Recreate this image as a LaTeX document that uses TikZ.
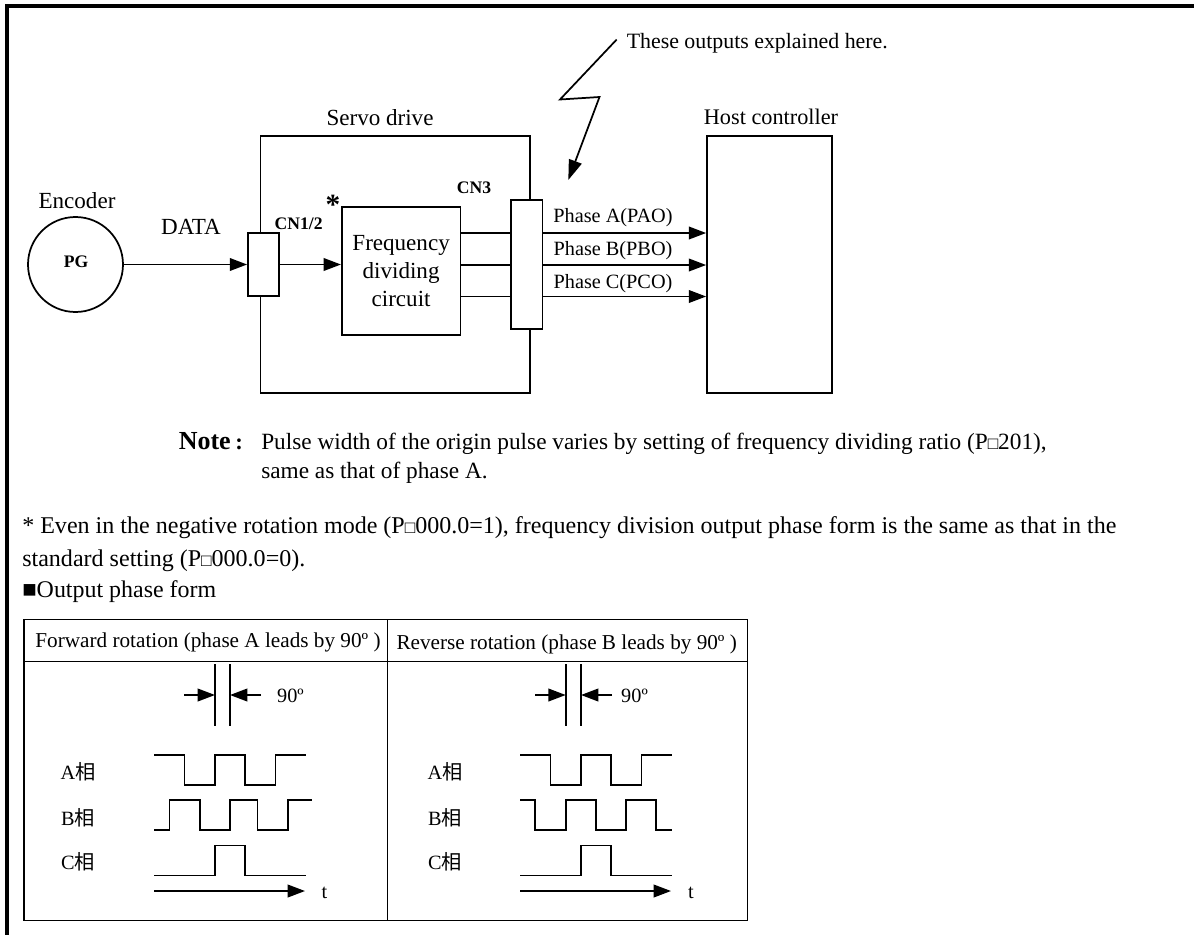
\documentclass[tikz,border=0pt]{standalone}
\usepackage{fontspec}
\setmainfont{Liberation Serif}
\newfontfamily\cjk{Noto Sans CJK SC}
\usetikzlibrary{arrows.meta,shapes.geometric}
\def\px{*0.75pt}
\newcommand{\sqbox}{{\fontsize{13}{13}\selectfont □}}
\tikzset{
  x=0.75pt,y=-0.75pt,
  ln/.style={line width=1.3pt,line join=miter},
  arr/.style={ln,-{Triangle[length=13pt,width=9.5pt]}},
  boxn/.style={draw,ln,fill=white,inner sep=0pt},
  lbl/.style={inner sep=0pt,font=\fontsize{17.3}{20}\selectfont},
  lblb/.style={inner sep=0pt,font=\fontsize{13.2}{15}\selectfont\bfseries},
  note/.style={inner sep=0pt,anchor=base west,font=\fontsize{17.47}{20}\selectfont},
  body/.style={inner sep=0pt,anchor=base west,font=\fontsize{18.03}{20}\selectfont},
  cell/.style={inner sep=0pt,font=\fontsize{15.9}{18}\selectfont},
  phase/.style={inner sep=0pt,font=\fontsize{15.2}{18}\selectfont},
  sig/.style={inner sep=0pt,font=\fontsize{15.2}{18}\selectfont},
}
\begin{document}
\begin{tikzpicture}
\useasboundingbox (0,0) rectangle (1194,935);
\fill[white] (0,0) rectangle (1194,935);
% outer frame
\draw[line width=3pt] (1194,6) -- (7,6) -- (7,935);

% boxes
\node[boxn,minimum width=269.6\px,minimum height=257\px] (servo) at (395.2,264.5) {};
\node[boxn,minimum width=125\px,minimum height=257\px] (host) at (769.5,264.5) {};
\node[boxn,minimum width=118.6\px,minimum height=128\px,align=center,font=\fontsize{17.3}{21}\selectfont] (freq) at (401.1,271) {Frequency\\dividing\\circuit};
\node[boxn,minimum width=31.3\px,minimum height=63\px] (cnl) at (263.6,264.5) {};
\node[boxn,minimum width=31.5\px,minimum height=128.5\px] (cnr) at (526.8,264.5) {};
\node[boxn,circle,minimum size=95\px] (enc) at (75.5,264.5) {};
\node[lblb] (pg) at (76,262) {PG};

% labels
\node[lbl] (encl) at (77,201) {Encoder};
\node[lbl] (datal) at (191,227) {DATA};
\node[lbl] (servol) at (380,118) {Servo drive};
\node[lbl,font=\fontsize{16.7}{20}\selectfont] (hostl) at (771,117) {Host controller};
\node[lblb] (cn12) at (298.7,223.5) {CN1/2};
\node[lblb] (cn3) at (474,188) {CN3};
\node[inner sep=0pt,font=\fontsize{22}{22}\selectfont\bfseries] (star) at (333,205) {*};
\node[inner sep=0pt,anchor=base west,font=\fontsize{16.4}{20}\selectfont] (expl) at (626.5,48) {These outputs explained here.};

% connectors
\coordinate (oa) at (511,233);
\coordinate (ob) at (511,265);
\coordinate (oc) at (511,296.5);
\draw[arr] (enc.east) -- (cnl.west);
\draw[arr] (cnl.east) -- (cnl.east -| freq.west);
\foreach \o in {oa,ob,oc}{
  \draw[ln] (\o -| freq.east) -- (\o -| cnr.west);
  \draw[arr] (\o -| cnr.east) -- (\o -| host.west);
}
\node[phase] (pa) at (613,217.5) {Phase A(PAO)};
\node[phase] (pb) at (613,251) {Phase B(PBO)};
\node[phase] (pc) at (613,284) {Phase C(PCO)};

% lightning pointer
\coordinate (z0) at (616.7,39.5);
\coordinate (z1) at (560,99.5);
\coordinate (z2) at (599.5,97);
\coordinate (z3) at (568.3,180);
\draw[ln,-{Triangle[length=15pt,width=10pt]}] (z0) -- (z1) -- (z2) -- (z3);

% text
\node[inner sep=0pt,anchor=base west,font=\fontsize{19.5}{22}\selectfont\bfseries] (notel) at (178.5,449.5) {Note};
\node[inner sep=0pt,anchor=base west,font=\fontsize{17}{20}\selectfont\bfseries] (notec) at (235,449) {:};
\node[note] (t2) at (261,449) {Pulse width of the origin pulse varies by setting of frequency dividing ratio (P\sqbox 201),};
\node[note] (t3) at (261,478.5) {same as that of phase A.};
\node[body] (t4) at (22,533) {* Even in the negative rotation mode (P\sqbox 000.0=1), frequency division output phase form is the same as that in the};
\node[body] (t5) at (22,566) {standard setting (P\sqbox 000.0=0).};
\node[body,font=\fontsize{17.95}{20}\selectfont] (t6) at (22,597) {■Output phase form};

% table
\coordinate (tl) at (24,619.5);
\coordinate (tm) at (387.5,661.5);
\coordinate (br) at (747.5,920.5);
\draw[line width=1.1pt] (tl) rectangle (br);
\draw[line width=1.1pt] (tl |- tm) -- (br |- tm);
\draw[line width=1.1pt] (tl -| tm) -- (br -| tm);
\node[cell] (h1) at (208,642) {Forward rotation (phase A leads by 90º )};
\node[cell] (h2) at (566.7,644.5) {Reverse rotation (phase B leads by 90º )};

% left waveforms
\draw[ln] (215,664) -- (215,725.5);
\draw[ln] (230,664) -- (230,725.5);
\draw[arr] (184,695) -- (215,695);
\draw[arr] (261,695) -- (230,695);
\node[sig] (d1) at (290.4,696) {90º};
\node[sig] (a1) at (78,771.5) {A\cjk 相};
\node[sig] (b1) at (78,817.5) {B\cjk 相};
\node[sig] (c1) at (78,862) {C\cjk 相};
\draw[ln] (154,755) -- (184.5,755) -- (184.5,785) -- (215,785) -- (215,755) -- (245,755) -- (245,785) -- (275.5,785) -- (275.5,755) -- (306,755);
\draw[ln] (154,830) -- (169.5,830) -- (169.5,800) -- (200,800) -- (200,830) -- (230,830) -- (230,800) -- (257.5,800) -- (257.5,830) -- (288,830) -- (288,800) -- (312,800);
\draw[ln] (154,875.5) -- (215,875.5) -- (215,845.5) -- (245,845.5) -- (245,875.5) -- (306,875.5);
\draw[arr] (154,891) -- (305,891);
\node[sig] (t1l) at (324.5,893) {t};

% right waveforms
\draw[ln] (565.7,664) -- (565.7,725.5);
\draw[ln] (581,664) -- (581,725.5);
\draw[arr] (535,695) -- (565.7,695);
\draw[arr] (612,695) -- (581,695);
\node[sig] (d2) at (634.5,696) {90º};
\node[sig] (a2) at (445,771.5) {A\cjk 相};
\node[sig] (b2) at (445,817.5) {B\cjk 相};
\node[sig] (c2) at (445,862) {C\cjk 相};
\draw[ln] (520,755) -- (550.5,755) -- (550.5,785) -- (581,785) -- (581,755) -- (611,755) -- (611,785) -- (641.5,785) -- (641.5,755) -- (672,755);
\draw[ln] (520,800) -- (535.3,800) -- (535.3,830) -- (565.7,830) -- (565.7,800) -- (596,800) -- (596,830) -- (626,830) -- (626,800) -- (656.3,800) -- (656.3,830) -- (672,830);
\draw[ln] (520,875.5) -- (581,875.5) -- (581,845.5) -- (611,845.5) -- (611,875.5) -- (672,875.5);
\draw[arr] (520,891) -- (671,891);
\node[sig] (t2l) at (691,893) {t};
\end{tikzpicture}
\end{document}
